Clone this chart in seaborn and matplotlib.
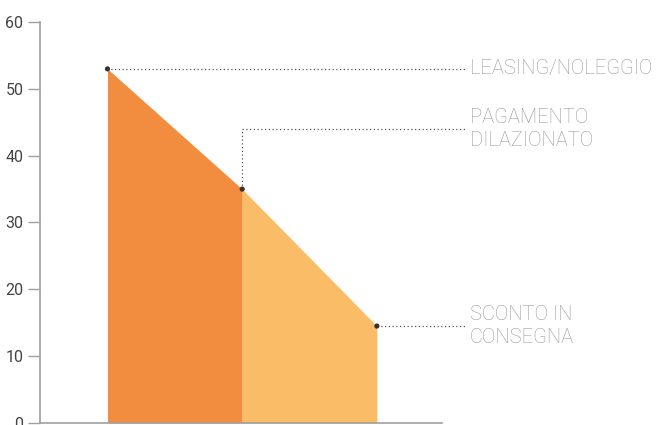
import matplotlib
matplotlib.use("Agg")
import matplotlib.pyplot as plt
import pandas as pd
import seaborn as sns

# dati
categorie = ["LEASING/NOLEGGIO", "PAGAMENTO\nDILAZIONATO", "SCONTO IN\nCONSEGNA"]
valori = [53, 35, 14.5]
posizioni = [0, 1, 2]
y_etichette = [53, 44, 14.5]
yticks = [0, 10, 20, 30, 40, 50, 60]

df = pd.DataFrame({"pos": posizioni, "valore": valori, "categoria": categorie})

sns.set_style("white")
plt.rcParams["font.family"] = ["Roboto", "DejaVu Sans"]

fig = plt.figure(figsize=(6.58, 4.25), dpi=100)
ax = fig.add_axes([0.061, 0.005, 0.61, 0.943])

# aree
ax.fill_between(df["pos"][:2], df["valore"][:2], 0, color="#F28C3E", linewidth=0)
ax.fill_between(df["pos"][1:], df["valore"][1:], 0, color="#FABC66", linewidth=0)

# punti
sns.scatterplot(data=df, x="pos", y="valore", ax=ax, color="#333333", s=14,
                edgecolor="none", zorder=5, clip_on=False)

# linee tratteggiate verso le etichette
x_fine = 2.652
x_testo = 2.69
for x, v, ye, lab in zip(df["pos"], df["valore"], y_etichette, df["categoria"]):
    if ye != v:
        ax.plot([x, x], [v, ye], ls=(0, (1, 2)), lw=0.9, color="#555555", clip_on=False)
    ax.plot([x, x_fine], [ye, ye], ls=(0, (1, 2)), lw=0.9, color="#555555", clip_on=False)
    ax.text(x_testo, ye, lab, va="center", ha="left", fontsize=14.5, color="#999999",
            linespacing=1.3, fontweight="light")

ax.set_xlim(-0.5, 2.48)
ax.set_ylim(0, 60)
ax.set_yticks(yticks)
ax.set_xticks([])
ax.set_xlabel("")
ax.set_ylabel("")

sns.despine(ax=ax)
for s in ["left", "bottom"]:
    ax.spines[s].set_color("#a0a0a0")
    ax.spines[s].set_linewidth(1.2)
ax.tick_params(axis="y", direction="out", length=9, width=1, color="#a0a0a0",
               labelsize=11.5, labelcolor="#444444", left=True, pad=3)

fig.savefig("out.png", dpi=100)
